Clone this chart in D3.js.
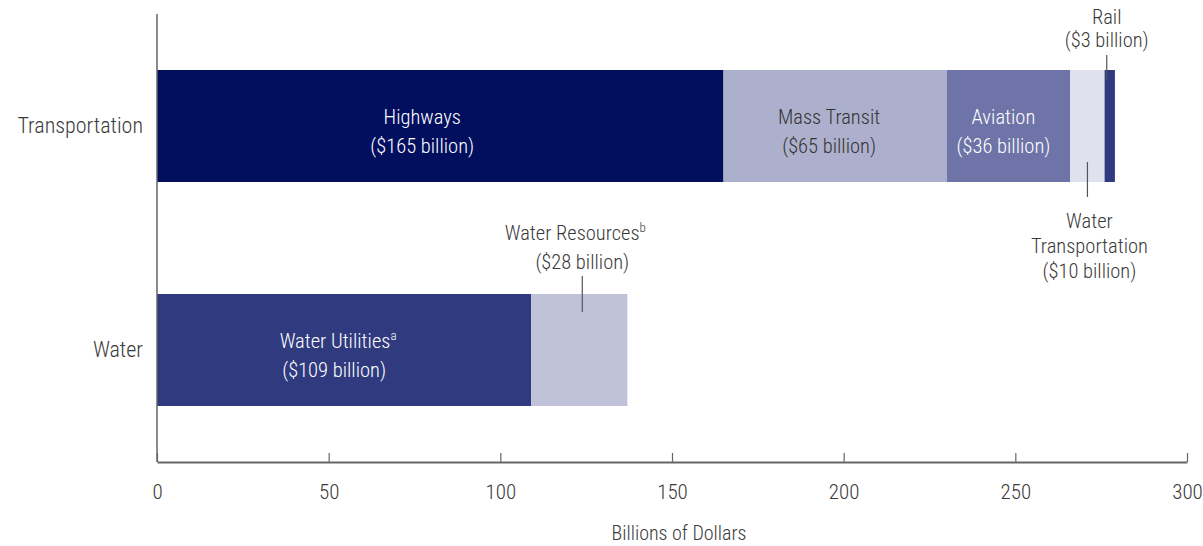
<!DOCTYPE html>
<html><head><meta charset="utf-8">
<script src="https://cdn.jsdelivr.net/npm/d3@7"></script>
<style>
body{margin:0;background:#fff;}
text{font-family:"Roboto Condensed","Liberation Sans Narrow","DejaVu Sans Condensed",sans-serif;font-weight:300;}
</style></head>
<body><svg id="c" width="1203" height="546"></svg>
<script>
const categories = ["Transportation", "Water"];
const transportSegments = ["Highways", "Mass Transit", "Aviation", "Water Transportation", "Rail"];
const transportValues = [165, 65, 36, 10, 3];
const waterSegments = ["Water Utilities", "Water Resources"];
const waterValues = [109, 28];
const xTicks = [0, 50, 100, 150, 200, 250, 300];
const xTitle = "Billions of Dollars";

const colors = {
  "Highways": "#020e5e", "Mass Transit": "#adb0cc", "Aviation": "#6e74a8",
  "Water Transportation": "#dfe1ee", "Rail": "#2f3a80",
  "Water Utilities": "#2f3a7f", "Water Resources": "#c0c2da"
};
const FS = 20.5;
const TXT = "#3a3a3a";

const svg = d3.select("#c");
const x = d3.scaleLinear().domain([0, 300]).range([157, 1187]);
const y = d3.scaleBand().domain(categories).range([14, 462]).paddingInner(0.5).paddingOuter(0.25);

function stack(names, vals) {
  let acc = 0;
  return names.map((n, i) => { const s = acc; acc += vals[i]; return {name: n, v: vals[i], x0: s, x1: acc}; });
}
const rows = [
  {cat: "Transportation", segs: stack(transportSegments, transportValues)},
  {cat: "Water", segs: stack(waterSegments, waterValues)}
];

rows.forEach(r => {
  svg.append("g").selectAll("rect").data(r.segs).join("rect")
    .attr("x", d => x(d.x0)).attr("width", d => x(d.x1) - x(d.x0))
    .attr("y", y(r.cat)).attr("height", y.bandwidth())
    .attr("fill", d => colors[d.name]);
});

// axes
const axis = svg.append("g").attr("transform", "translate(0,462)")
  .call(d3.axisBottom(x).tickValues(xTicks).tickSizeInner(-9).tickSizeOuter(0).tickPadding(22));
axis.attr("font-family", null);
axis.select(".domain").attr("stroke", "#666").attr("stroke-width", 2);
axis.selectAll(".tick line").attr("stroke", "#666").attr("stroke-width", 1.2);
axis.selectAll(".tick text").attr("font-size", 21).attr("fill", TXT);

svg.append("line").attr("x1", x(0)).attr("x2", x(0)).attr("y1", 14).attr("y2", 462)
  .attr("stroke", "#666").attr("stroke-width", 1.5);

svg.append("text").attr("x", 679).attr("y", 540).attr("text-anchor", "middle")
  .attr("font-size", 20).attr("fill", TXT).text(xTitle);

// category labels
svg.append("g").selectAll("text").data(categories).join("text")
  .attr("x", 143).attr("y", d => y(d) + y.bandwidth() / 2 + 7)
  .attr("text-anchor", "end").attr("font-size", 22).attr("fill", TXT).text(d => d);

// inside labels
function fmt(v) { return "($" + v + " billion)"; }
const inside = [
  {row: 0, i: 0, dx: -18, sup: null},
  {row: 0, i: 1, dx: -6, sup: null},
  {row: 0, i: 2, dx: -5, sup: null},
  {row: 1, i: 0, dx: -6, sup: "a"}
];
inside.forEach(o => {
  const r = rows[o.row], d = r.segs[o.i];
  const cx = (x(d.x0) + x(d.x1)) / 2 + o.dx;
  const cy = y(r.cat) + y.bandwidth() / 2;
  const fill = o.row === 0 && o.i === 1 ? "#333" : "#fff";
  const t = svg.append("text").attr("x", cx).attr("y", cy - 2).attr("text-anchor", "middle")
    .attr("font-size", FS).attr("fill", fill);
  t.append("tspan").text(d.name);
  if (o.sup) t.append("tspan").attr("font-size", 13).attr("dy", -8).text(o.sup);
  svg.append("text").attr("x", cx + (o.sup ? -4 : 0)).attr("y", cy + 27).attr("text-anchor", "middle")
    .attr("font-size", FS).attr("fill", fill).text(fmt(d.v));
});

// callouts
const tr = rows[0], wr = rows[1];
const rail = tr.segs[4], wt = tr.segs[3], wres = wr.segs[1];
const lineCol = "#555";
// Rail
{
  const cx = (x(rail.x0) + x(rail.x1)) / 2;
  svg.append("text").attr("x", cx - 3).attr("y", 24).attr("text-anchor", "middle").attr("font-size", FS).attr("fill", TXT).text(rail.name);
  svg.append("text").attr("x", cx - 3).attr("y", 47).attr("text-anchor", "middle").attr("font-size", FS).attr("fill", TXT).text(fmt(rail.v));
  svg.append("line").attr("x1", cx - 3).attr("x2", cx - 3).attr("y1", 55).attr("y2", y("Transportation") + 10).attr("stroke", lineCol).attr("stroke-width", 1.2);
}
// Water Transportation
{
  const cx = (x(wt.x0) + x(wt.x1)) / 2;
  const by = y("Transportation") + y.bandwidth();
  svg.append("line").attr("x1", cx).attr("x2", cx).attr("y1", by - 20).attr("y2", by + 15).attr("stroke", lineCol).attr("stroke-width", 1.2);
  ["Water", "Transportation", fmt(wt.v)].forEach((s, k) => {
    svg.append("text").attr("x", cx + 2).attr("y", 228 + k * 25).attr("text-anchor", "middle").attr("font-size", FS).attr("fill", TXT).text(s);
  });
}
// Water Resources
{
  const cx = (x(wres.x0) + x(wres.x1)) / 2;
  const ty = y("Water");
  const t = svg.append("text").attr("x", cx - 4).attr("y", 240).attr("text-anchor", "middle").attr("font-size", FS).attr("fill", TXT);
  t.append("tspan").text(wres.name);
  t.append("tspan").attr("font-size", 13).attr("dy", -8).text("b");
  svg.append("text").attr("x", cx + 3).attr("y", 269).attr("text-anchor", "middle").attr("font-size", FS).attr("fill", TXT).text(fmt(wres.v));
  svg.append("line").attr("x1", cx + 3).attr("x2", cx + 3).attr("y1", 276).attr("y2", ty + 18).attr("stroke", lineCol).attr("stroke-width", 1.2);
}
</script></body></html>
